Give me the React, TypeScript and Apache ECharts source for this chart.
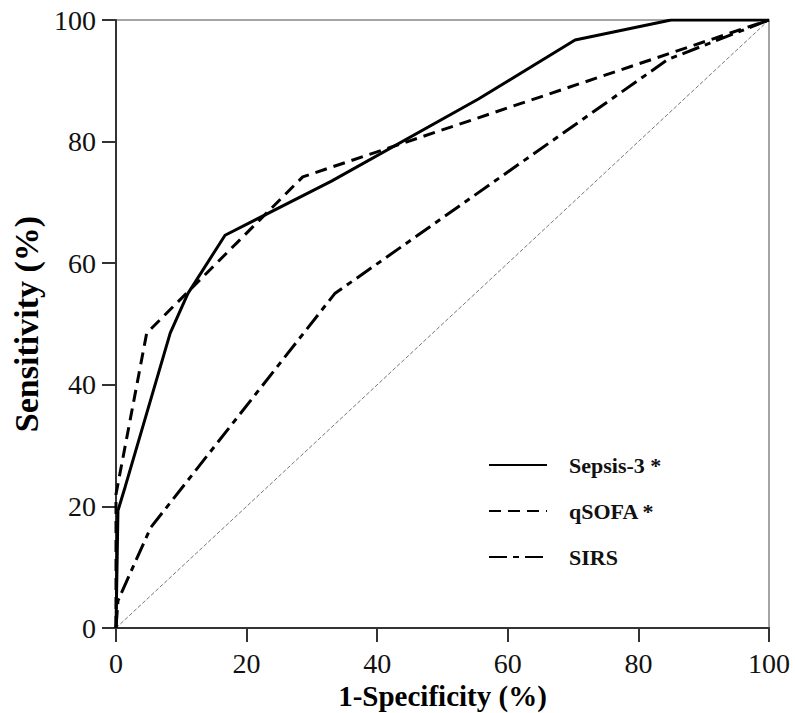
import React, { useEffect, useRef } from "react";
import * as echarts from "echarts";

// ROC curves: [1-Specificity (%), Sensitivity (%)]
const sepsis3: [number, number][] = [
  [0, 0], [0.3, 19.3], [1.4, 23.2], [8.3, 48.5], [11, 55], [16.7, 64.6],
  [33, 73.5], [55.5, 87], [70.3, 96.7], [85, 100], [100, 100],
];
const qsofa: [number, number][] = [
  [0, 0], [0, 22], [4.7, 48.5], [28.6, 74.2], [100, 100],
];
const sirs: [number, number][] = [
  [0, 0], [0.3, 4.5], [5.3, 16.5], [33.5, 55], [84.5, 93.5], [100, 100],
];
const reference: [number, number][] = [[0, 0], [100, 100]];

const seriesNames = ["Sepsis-3 *", "qSOFA *", "SIRS"];
const axisTicks = [0, 20, 40, 60, 80, 100];

const FONT = "'Liberation Serif', 'Times New Roman', serif";

export default function App() {
  const ref = useRef<HTMLDivElement>(null);
  useEffect(() => {
    if (!ref.current) return;
    const chart = echarts.init(ref.current, undefined, { renderer: "svg" });
    const axisCommon = {
      type: "value" as const,
      min: axisTicks[0],
      max: axisTicks[axisTicks.length - 1],
      interval: 20,
      splitLine: { show: false },
      axisLine: { show: true, lineStyle: { color: "#333", width: 2 } },
      axisTick: { show: true, length: 14, lineStyle: { color: "#333", width: 2 } },
      axisLabel: { color: "#111", fontFamily: FONT, fontSize: 28 },
      nameLocation: "middle" as const,
    };
    const nameStyle = { color: "#000", fontFamily: FONT, fontWeight: "bold" as const };
    chart.setOption({
      animation: false,
      backgroundColor: "#fff",
      grid: {
        left: 116, right: 26, top: 20, bottom: 85,
        containLabel: false,
        outerBoundsMode: "none",
        show: true, borderColor: "#888", borderWidth: 1.5,
      },
      xAxis: {
        ...axisCommon, name: "1-Specificity (%)", nameGap: 50,
        nameTextStyle: { ...nameStyle, fontSize: 29 },
        axisLabel: { ...axisCommon.axisLabel, margin: 21 },
      },
      yAxis: {
        ...axisCommon, name: "Sensitivity (%)", nameGap: 70,
        nameTextStyle: { ...nameStyle, fontSize: 34 },
        axisLabel: { ...axisCommon.axisLabel, margin: 20 },
      },
      legend: {
        data: seriesNames,
        orient: "vertical",
        left: 483,
        top: 449,
        itemWidth: 58,
        itemHeight: 14,
        itemGap: 24,
        itemStyle: { opacity: 0 },
        textStyle: { fontFamily: FONT, fontSize: 22, fontWeight: "bold", color: "#111", lineHeight: 22, padding: [0, 0, 0, 17] },
      },
      series: [
        {
          name: seriesNames[0], type: "line", data: sepsis3, symbol: "none",
          lineStyle: { color: "#000", width: 3, type: "solid" },
          itemStyle: { color: "#000" },
        },
        {
          name: seriesNames[1], type: "line", data: qsofa, symbol: "none",
          lineStyle: { color: "#000", width: 3, type: [12, 7] },
          itemStyle: { color: "#000" },
        },
        {
          name: seriesNames[2], type: "line", data: sirs, symbol: "none",
          lineStyle: { color: "#000", width: 3, type: [18, 6, 6, 6] },
          itemStyle: { color: "#000" },
        },
        {
          name: "Reference", type: "line", data: reference, symbol: "none",
          lineStyle: { color: "#777", width: 1, type: [4, 2] },
          z: 1,
        },
      ],
    });
    return () => chart.dispose();
  }, []);
  return <div ref={ref} style={{ width: 795, height: 713, position: "absolute", left: 0, top: 0 }} />;
}
